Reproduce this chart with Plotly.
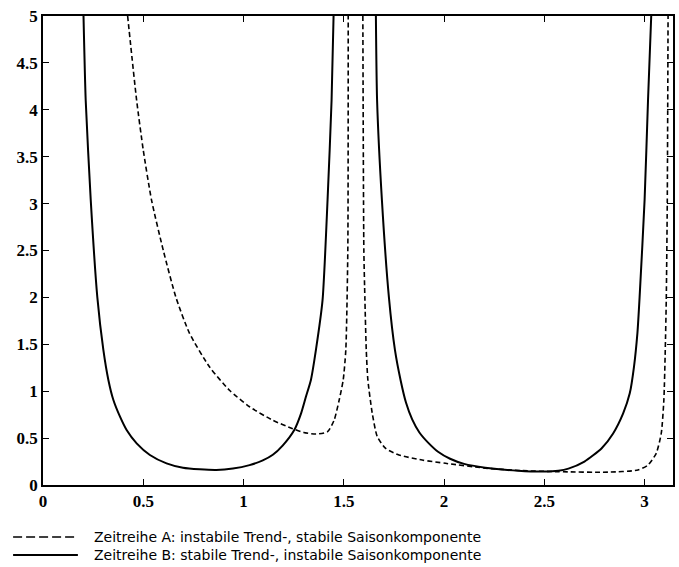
import plotly.graph_objects as go

# Zeitreihe A (gestrichelt): zwei Äste
a1_x = [0.422, 0.467, 0.50, 0.541, 0.60, 0.663, 0.73, 0.83, 0.93, 1.03, 1.146, 1.245, 1.30, 1.361, 1.419, 1.452, 1.477, 1.497, 1.51, 1.52, 1.522]
a1_y = [5.0, 4.1, 3.57, 3.04, 2.5, 2.0, 1.62, 1.26, 1.01, 0.834, 0.69, 0.60, 0.56, 0.543, 0.568, 0.693, 0.906, 1.12, 1.44, 2.5, 5.0]
a2_x = [1.595, 1.60, 1.605, 1.612, 1.62, 1.642, 1.667, 1.709, 1.775, 1.891, 2.007, 2.205, 2.37, 2.57, 2.818, 2.967, 3.017, 3.058, 3.083, 3.096, 3.103, 3.108, 3.113, 3.117]
a2_y = [5.0, 2.5, 2.0, 1.44, 1.12, 0.764, 0.515, 0.39, 0.32, 0.266, 0.231, 0.18, 0.155, 0.142, 0.137, 0.16, 0.213, 0.338, 0.55, 0.906, 1.44, 1.97, 3.0, 5.0]

# Zeitreihe B (durchgezogen): zwei Äste
b1_x = [0.202, 0.213, 0.238, 0.271, 0.301, 0.326, 0.351, 0.384, 0.417, 0.467, 0.533, 0.616, 0.698, 0.781, 0.864, 0.947, 1.03, 1.096, 1.146, 1.195, 1.253, 1.287, 1.311, 1.336, 1.361, 1.394, 1.419, 1.439, 1.449]
b1_y = [5.0, 4.1, 3.04, 2.0, 1.44, 1.12, 0.906, 0.728, 0.586, 0.444, 0.32, 0.231, 0.184, 0.167, 0.16, 0.175, 0.212, 0.262, 0.322, 0.42, 0.586, 0.764, 0.94, 1.12, 1.44, 1.97, 3.04, 4.1, 5.0]
b2_x = [1.66, 1.666, 1.69, 1.725, 1.755, 1.783, 1.81, 1.841, 1.877, 1.924, 1.97, 2.03, 2.10, 2.205, 2.37, 2.50, 2.57, 2.62, 2.70, 2.785, 2.843, 2.893, 2.926, 2.947, 2.964, 2.975, 3.0, 3.017, 3.033]
b2_y = [5.0, 4.1, 3.04, 2.0, 1.44, 1.12, 0.88, 0.70, 0.56, 0.444, 0.355, 0.28, 0.225, 0.185, 0.152, 0.143, 0.152, 0.175, 0.25, 0.39, 0.55, 0.764, 0.977, 1.26, 1.616, 2.0, 3.04, 4.1, 5.0]

x_ticks = [0, 0.5, 1, 1.5, 2, 2.5, 3]
x_ticklabels = ["0", "0.5", "1", "1.5", "2", "2.5", "3"]
y_ticks = [0, 0.5, 1, 1.5, 2, 2.5, 3, 3.5, 4, 4.5, 5]
y_ticklabels = ["0", "0.5", "1", "1.5", "2", "2.5", "3", "3.5", "4", "4.5", "5"]

name_a = "Zeitreihe A: instabile Trend-, stabile Saisonkomponente"
name_b = "Zeitreihe B: stabile Trend-, instabile Saisonkomponente"

fig = go.Figure()
fig.add_trace(go.Scatter(
    x=a1_x + [None] + a2_x, y=a1_y + [None] + a2_y,
    mode="lines", name=name_a, connectgaps=False, showlegend=False,
    line=dict(color="black", width=1.6, dash="5px,3px", shape="spline", smoothing=0.6),
))
fig.add_trace(go.Scatter(
    x=b1_x + [None] + b2_x, y=b1_y + [None] + b2_y,
    mode="lines", name=name_b, connectgaps=False, showlegend=False,
    line=dict(color="black", width=2, shape="spline", smoothing=0.6),
))

axis_common = dict(
    showgrid=False, zeroline=False, showline=True, linecolor="black", linewidth=1.5,
    mirror="ticks", ticks="inside", ticklen=6, tickwidth=1, tickcolor="black",
    tickfont=dict(family="Liberation Serif", size=17, color="black"),
)
fig.update_xaxes(range=[0, 3.1416], tickvals=x_ticks,
                 ticktext=["<b>%s</b>" % t for t in x_ticklabels], **axis_common)
fig.update_yaxes(range=[0, 5], tickvals=y_ticks,
                 ticktext=["<b>%s</b>" % t for t in y_ticklabels], **axis_common)

# Legende unterhalb der Grafik (Linienmuster + Text)
W, H = 679, 567
ml, mr, mt, mb = 43, 4, 16, 82
pw, ph = W - ml - mr, H - mt - mb


def px2x(px):
    return (px - ml) / pw


def py2y(py):
    return (H - mb - py) / ph


legend_rows = [(name_a, dict(color="black", width=1.6, dash="9px,4px"), 537),
               (name_b, dict(color="black", width=2), 555)]
shapes = []
annotations = []
for label, ln, py in legend_rows:
    shapes.append(dict(type="line", xref="paper", yref="paper",
                       x0=px2x(13), x1=px2x(78), y0=py2y(py), y1=py2y(py), line=ln))
    annotations.append(dict(xref="paper", yref="paper", x=px2x(93), y=py2y(py),
                            xanchor="left", yanchor="middle", showarrow=False, text=label,
                            borderpad=0,
                            font=dict(family="DejaVu Sans", size=14, color="black")))

fig.update_layout(
    width=W, height=H,
    margin=dict(l=ml, r=mr, t=mt, b=mb),
    paper_bgcolor="white", plot_bgcolor="white",
    showlegend=False,
    shapes=shapes, annotations=annotations,
)

fig.write_html("out.html")
